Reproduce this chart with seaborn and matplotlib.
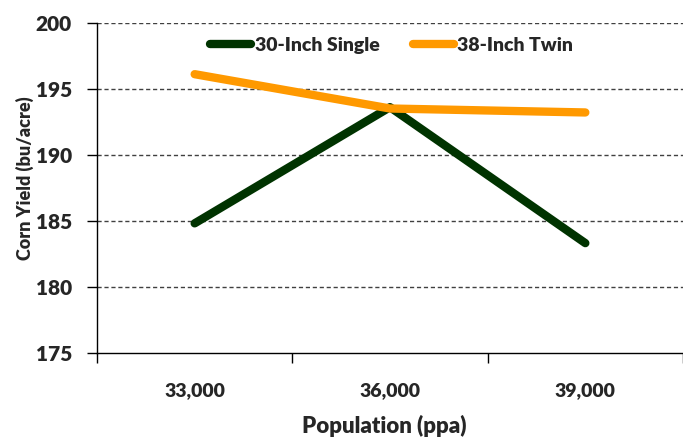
import matplotlib
matplotlib.use("Agg")
import matplotlib.pyplot as plt
import seaborn as sns
import pandas as pd

categories = ["33,000", "36,000", "39,000"]
single_30 = [184.8, 193.6, 183.3]
twin_38 = [196.1, 193.5, 193.2]
series_names = ["30-Inch Single", "38-Inch Twin"]
colors = ["#003300", "#FF9900"]
y_ticks = [175, 180, 185, 190, 195, 200]

df = pd.DataFrame({
    "pos": list(range(len(categories))) * 2,
    "yield": single_30 + twin_38,
    "series": [series_names[0]] * 3 + [series_names[1]] * 3,
})

sns.set_theme(style="white")
plt.rcParams["font.family"] = ["Lato", "DejaVu Sans"]
W = "heavy"

fig = plt.figure(figsize=(6.83, 4.37), dpi=100)
ax = fig.add_axes([97 / 683, 1 - 352.7 / 437, 586 / 683, 330 / 437])

sns.lineplot(data=df, x="pos", y="yield", hue="series", palette=colors,
             linewidth=6, ax=ax, legend=True, solid_capstyle="round")

ax.set_xlim(-0.5, 2.5)
ax.set_ylim(175, 200)
ax.set_yticks(y_ticks)
ax.set_yticklabels([str(t) for t in y_ticks], fontsize=15, fontweight=W)
ax.set_xticks(range(len(categories)))
ax.set_xticklabels(categories, fontsize=14, fontweight=W)
ax.set_xticks([-0.5, 0.5, 1.5, 2.5], minor=True)
ax.tick_params(axis="x", which="major", length=0, pad=21)
ax.tick_params(axis="x", which="minor", length=7, width=1, color="black", direction="out", bottom=True)
ax.tick_params(axis="y", length=7, width=1, color="black", direction="out", left=True, pad=11)

for t in y_ticks[1:]:
    ax.axhline(t, color="#404040", linestyle=(0, (3, 2)), linewidth=1, zorder=0)

for s in ["top", "right"]:
    ax.spines[s].set_visible(False)
for s in ["left", "bottom"]:
    ax.spines[s].set_color("black")
    ax.spines[s].set_linewidth(1)

ax.set_xlabel("Population (ppa)", fontsize=16, fontweight=W)
ax.xaxis.set_label_coords(0.49, -0.19)
ax.set_ylabel("Corn Yield (bu/acre)", fontsize=13, fontweight=W)
ax.yaxis.set_label_coords(-0.107, 0.53)

handles, labels = ax.get_legend_handles_labels()
leg = ax.legend(handles, labels, loc="center", bbox_to_anchor=(0.503, 0.932), ncol=2,
                frameon=False, handlelength=2.1, handletextpad=0.2,
                columnspacing=1.7, prop={"weight": W, "size": 14})
for h in leg.get_lines():
    h.set_linewidth(6)
    h.set_solid_capstyle("round")

fig.savefig("out.png", dpi=100)
